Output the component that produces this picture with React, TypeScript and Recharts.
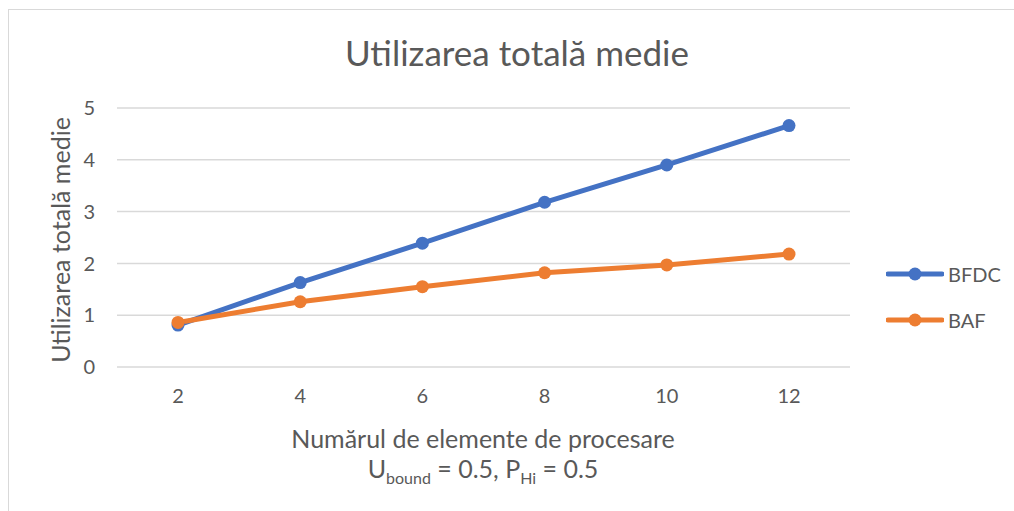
import { CartesianGrid, Line, LineChart, XAxis, YAxis } from 'recharts';

const procCounts = [2, 4, 6, 8, 10, 12];
const bfdcValues = [0.81, 1.63, 2.39, 3.18, 3.9, 4.66];
const bafValues = [0.86, 1.26, 1.55, 1.82, 1.97, 2.18];
const yTicks = [0, 1, 2, 3, 4, 5];
const seriesNames = ['BFDC', 'BAF'];

const BLUE = '#4472C4';
const ORANGE = '#ED7D31';
const TEXT = '#595959';
const FONT = 'Lato, "Open Sans", sans-serif';

const data = procCounts.map((n, i) => ({ n, bfdc: bfdcValues[i], baf: bafValues[i] }));

function LegendBox() {
  const items = [
    { name: seriesNames[0], color: BLUE },
    { name: seriesNames[1], color: ORANGE },
  ];
  return (
    <div style={{ position: 'absolute', left: 886, top: 251, fontFamily: FONT, color: TEXT, fontSize: 20 }}>
      {items.map((it) => (
        <div key={it.name} style={{ display: 'flex', alignItems: 'center', height: 46 }}>
          <svg width={58} height={16} style={{ marginRight: 4 }}>
            <line x1={2} y1={8} x2={56} y2={8} stroke={it.color} strokeWidth={5} strokeLinecap="round" />
            <circle cx={29} cy={8} r={6.5} fill={it.color} />
          </svg>
          <span>{it.name}</span>
        </div>
      ))}
    </div>
  );
}

export default function App() {
  return (
    <div style={{ position: 'absolute', left: 0, top: 0, width: 1014, height: 511, background: '#fff', overflow: 'hidden', fontFamily: FONT }}>
      <div style={{ position: 'absolute', left: 8, top: 9, width: 1100, height: 600, borderLeft: '1px solid #d9d9d9', borderTop: '1px solid #d9d9d9' }} />
      <LineChart
        width={1014}
        height={511}
        data={data}
        margin={{ top: 108, right: 164, bottom: 114, left: 0 }}
        style={{ position: 'absolute', left: 0, top: 0 }}
      >
        <CartesianGrid vertical={false} stroke="#d9d9d9" strokeWidth={1.5} />
        <XAxis
          dataKey="n"
          height={30}
          padding={{ left: 61, right: 61 }}
          axisLine={false}
          tickLine={false}
          tickSize={0}
          tickMargin={22}
          tick={{ fill: TEXT, fontSize: 20, fontFamily: FONT }}
        />
        <YAxis
          domain={[0, 5]}
          ticks={yTicks}
          width={117}
          axisLine={false}
          tickLine={false}
          tickSize={0}
          tickMargin={22}
          tick={{ fill: TEXT, fontSize: 20, fontFamily: FONT }}
        />
        <Line
          dataKey="bfdc"
          name={seriesNames[0]}
          stroke={BLUE}
          strokeWidth={5}
          dot={{ r: 6.5, fill: BLUE, stroke: BLUE, strokeWidth: 0 }}
          isAnimationActive={false}
        />
        <Line
          dataKey="baf"
          name={seriesNames[1]}
          stroke={ORANGE}
          strokeWidth={5}
          dot={{ r: 6.5, fill: ORANGE, stroke: ORANGE, strokeWidth: 0 }}
          isAnimationActive={false}
        />
      </LineChart>
      <LegendBox />
      <div style={{ position: 'absolute', left: 0, width: 1034, top: 30, textAlign: 'center', fontSize: 35, color: TEXT, lineHeight: '44px' }}>
        Utilizarea totală medie
      </div>
      <div
        style={{
          position: 'absolute',
          left: 60 - 150,
          top: 240 - 16,
          width: 300,
          height: 32,
          lineHeight: '32px',
          textAlign: 'center',
          fontSize: 25,
          color: TEXT,
          transform: 'rotate(-90deg)',
        }}
      >
        Utilizarea totală medie
      </div>
      <div style={{ position: 'absolute', left: 283, width: 400, top: 423, textAlign: 'center', fontSize: 25, color: TEXT, lineHeight: '30px' }}>
        Numărul de elemente de procesare
      </div>
      <div style={{ position: 'absolute', left: 283, width: 400, top: 453, textAlign: 'center', fontSize: 25, color: TEXT, lineHeight: '30px' }}>
        U<sub style={{ fontSize: 16 }}>bound</sub> = 0.5, P<sub style={{ fontSize: 16 }}>Hi</sub> = 0.5
      </div>
    </div>
  );
}
